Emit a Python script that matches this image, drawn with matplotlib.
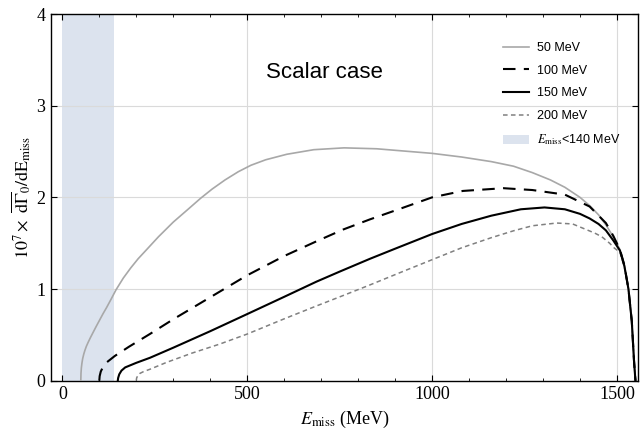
import numpy as np
import matplotlib
matplotlib.use("Agg")
from matplotlib import pyplot as plt
from matplotlib.patches import Patch
from matplotlib.ticker import MultipleLocator

plt.rcParams['mathtext.fontset'] = 'stix'
plt.rcParams['font.family'] = 'Liberation Serif'

# curves: (E_miss in MeV, 10^7 x dGamma/dE)
e50 = [50, 50.5, 51.5, 53, 55, 58, 61, 65, 70, 76, 83, 92, 100, 110, 120, 132, 145, 165, 185, 205, 228,
       260, 300, 340, 374, 405, 440, 476, 510, 550, 607, 680, 762, 850, 1000, 1080, 1160, 1220, 1271,
       1320, 1359, 1400, 1426, 1450, 1470, 1490, 1508, 1520, 1531, 1540, 1546, 1549, 1550]
g50 = [0, 0.08, 0.14, 0.19, 0.24, 0.29, 0.33, 0.375, 0.42, 0.47, 0.525, 0.595, 0.655, 0.73, 0.80, 0.89, 0.99,
       1.12, 1.23, 1.33, 1.43, 1.57, 1.73, 1.87, 1.99, 2.09, 2.19, 2.28, 2.35, 2.41, 2.47, 2.52, 2.54, 2.53,
       2.48, 2.44, 2.39, 2.34, 2.27, 2.19, 2.11, 2.0, 1.91, 1.81, 1.70, 1.57, 1.43, 1.26, 1.0, 0.65, 0.22,
       0.05, 0]

e100 = [100, 101, 104, 110, 120, 142, 180, 237, 300, 400, 500, 600, 687, 760, 832, 920, 1000, 1083, 1193,
        1271, 1359, 1426, 1470, 1490, 1508, 1520, 1531, 1540, 1546, 1549, 1550]
g100 = [0, 0.05, 0.1, 0.15, 0.2, 0.27, 0.37, 0.51, 0.67, 0.91, 1.15, 1.36, 1.52, 1.65, 1.76, 1.885, 2.0, 2.07, 2.10,
        2.08, 2.03, 1.90, 1.72, 1.58, 1.43, 1.26, 1.0, 0.65, 0.22, 0.05, 0]

e150 = [150, 151, 154, 160, 170, 185, 200, 237, 300, 400, 500, 600, 687, 750, 832, 900, 1000, 1080, 1160,
        1240, 1304, 1359, 1400, 1426, 1450, 1470, 1490, 1508, 1520, 1531, 1540, 1546, 1549, 1550]
g150 = [0, 0.03, 0.07, 0.11, 0.145, 0.17, 0.195, 0.25, 0.36, 0.54, 0.727, 0.915, 1.08, 1.19, 1.33, 1.44, 1.60, 1.71, 1.80,
        1.87, 1.89, 1.87, 1.82, 1.77, 1.71, 1.64, 1.53, 1.42, 1.25, 1.0, 0.65, 0.22, 0.05, 0]

e200 = [200, 201, 204, 210, 220, 237, 282, 350, 426, 500, 600, 687, 760, 832, 920, 1000, 1080, 1160, 1220,
        1271, 1337, 1380, 1404, 1440, 1459, 1480, 1492, 1508, 1520, 1531, 1540, 1546, 1549, 1550]
g200 = [0, 0.03, 0.055, 0.08, 0.10, 0.125, 0.20, 0.30, 0.40, 0.509, 0.675, 0.815, 0.93, 1.045, 1.19, 1.32, 1.45, 1.56, 1.635,
        1.69, 1.72, 1.71, 1.67, 1.61, 1.57, 1.50, 1.45, 1.40, 1.24, 1.0, 0.65, 0.22, 0.05, 0]

cut_lo, cut_hi = 0, 140

fig = plt.figure(figsize=(6.41, 4.34), dpi=100)
ax = fig.add_axes([0.0791, 0.1228, 0.9169, 0.8449])

ax.axvspan(cut_lo, cut_hi, color='#dce3ee', lw=0, zorder=0)
for xv in [500, 1000, 1500]:
    ax.axvline(xv, color='#dadada', lw=0.8, zorder=1)
for yv in [1, 2, 3]:
    ax.axhline(yv, color='#dadada', lw=0.8, zorder=1)

l1, = ax.plot(e50, g50, color='#a8a8a8', lw=1.2, zorder=3)
l2, = ax.plot(e100, g100, color='black', lw=1.5, dashes=(6, 4), zorder=4)
l3, = ax.plot(e150, g150, color='black', lw=1.5, zorder=4)
l4, = ax.plot(e200, g200, color='#808080', lw=1.1, dashes=(3, 2.2), zorder=3)

ax.set_xlim(-31.4, 1558)
ax.set_ylim(0, 4)
ax.set_xticks([0, 500, 1000, 1500])
ax.set_yticks([0, 1, 2, 3, 4])
ax.xaxis.set_minor_locator(MultipleLocator(100))
ax.tick_params(which='both', direction='in', top=True, right=True, labelsize=13, pad=4)
ax.tick_params(which='major', length=4, width=0.8)
ax.tick_params(which='minor', length=2.5, width=0.6)
for s in ax.spines.values():
    s.set_linewidth(1.0)

ax.set_xlabel(r'$E_{\rm miss}$ (MeV)', fontsize=13, labelpad=4)
ax.set_ylabel(r'$10^7\times\ \overline{\mathrm{d}\Gamma}_0/\mathrm{dE}_{\mathrm{miss}}$', fontsize=13, labelpad=2)

ax.text(710, 3.36, 'Scalar case', fontsize=16, family='Liberation Sans', ha='center', va='center')

handles = [l1, l2, l3, l4, Patch(facecolor='#dce3ee', edgecolor='none')]
labels = ['50 MeV', '100 MeV', '150 MeV', '200 MeV', r'$E_{\rm miss}$<140 MeV']
fig.legend(handles, labels, loc='upper left', bbox_to_anchor=(0.785, 0.903), frameon=False,
           prop={'family': 'Liberation Sans', 'size': 9}, handlelength=2.1, handletextpad=0.6,
           labelspacing=0.85, borderpad=0, borderaxespad=0)

fig.savefig('out.png', dpi=100)
